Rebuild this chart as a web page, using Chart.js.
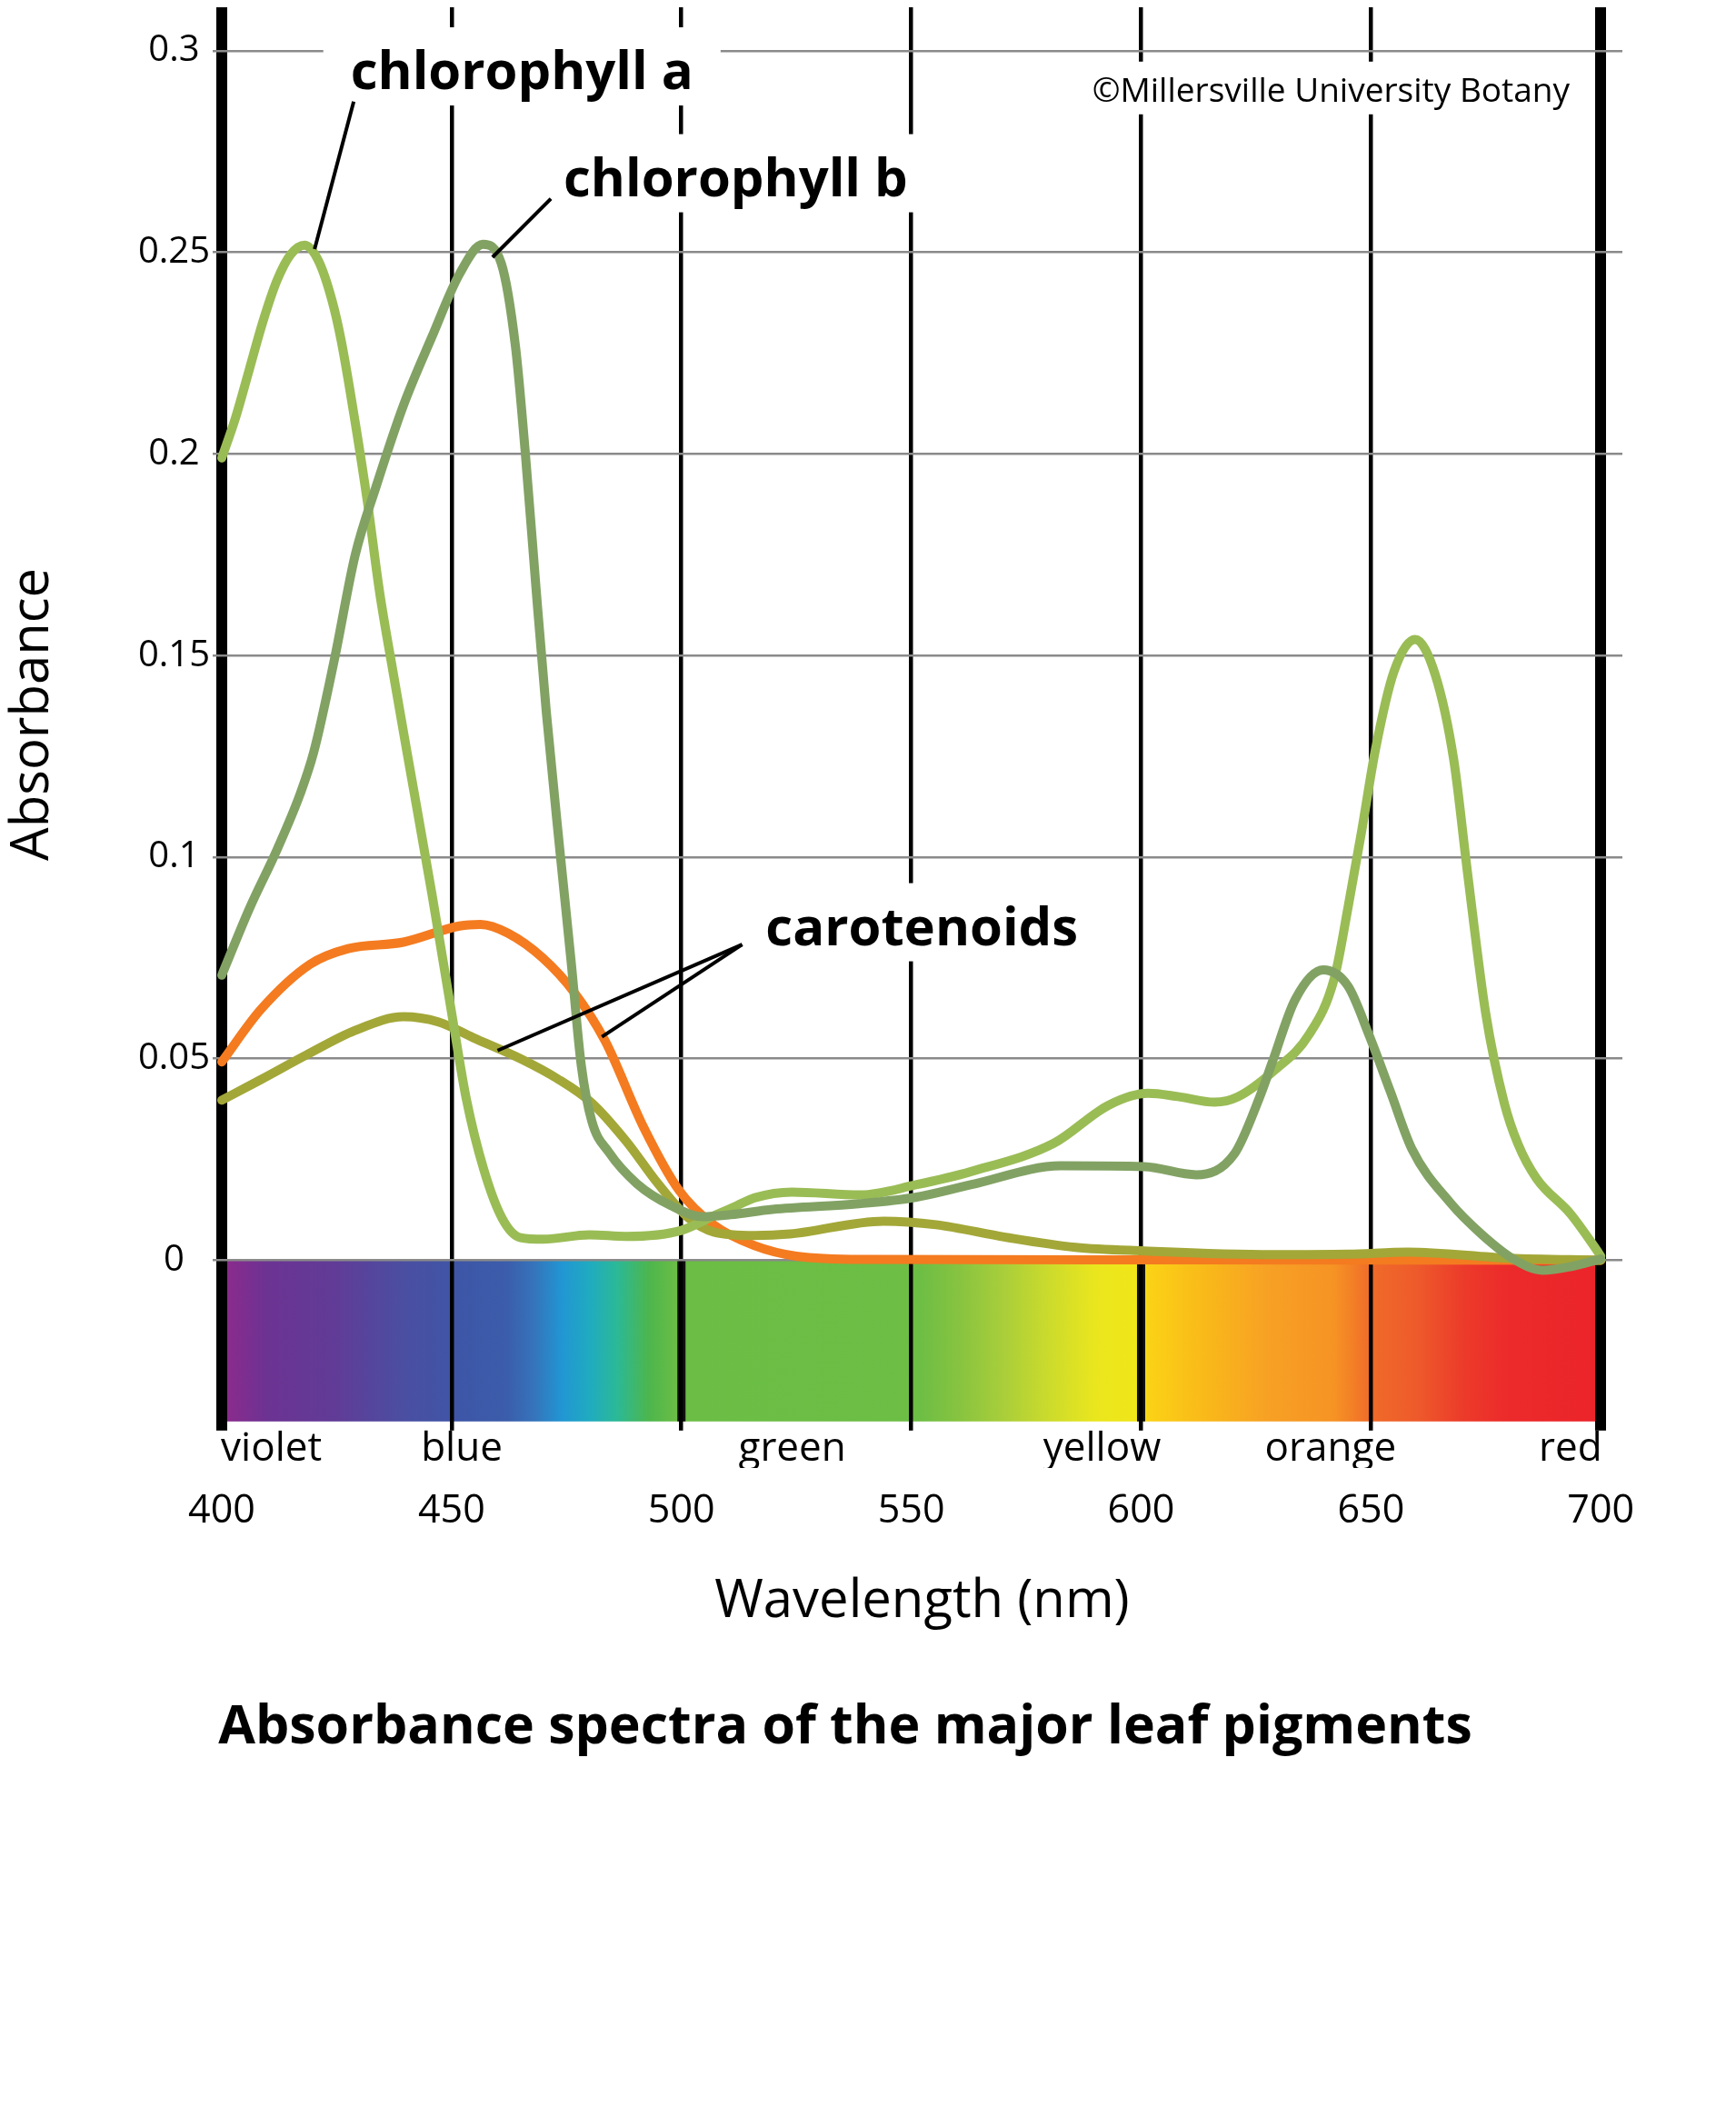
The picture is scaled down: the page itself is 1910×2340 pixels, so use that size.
<!DOCTYPE html>
<html>
<head>
<meta charset="utf-8">
<script src="https://cdn.jsdelivr.net/npm/chart.js@4.4.1/dist/chart.umd.min.js"></script>
<style>
html, body { margin: 0; padding: 0; background: #fff; }
</style>
</head>
<body>
<canvas id="chart" width="1910" height="2340"></canvas>
<script>
const wavelengthTicks = [400, 450, 500, 550, 600, 650, 700];
const absorbanceTicks = [0, 0.05, 0.1, 0.15, 0.2, 0.25, 0.3];
const colorNames = ["violet", "blue", "green", "yellow", "orange", "red"];
const colorNameWave = [410.8, 452.2, 524.1, 591.5, 641.2, 693.4];

const chlAWave = [400, 403, 406, 409, 412, 415, 418, 421, 424, 426, 429, 431.7, 434.3, 437.4, 440.3, 445.7, 450.2, 453.2, 457, 461, 465, 470, 480, 488, 500, 507, 512, 516, 524, 539, 551, 563, 581, 593, 601.5, 608, 616, 621, 629, 636.5, 642, 645, 648, 651, 655, 659.6, 664, 668, 671, 675, 679, 682, 686, 693.4, 699, 700];
const chlAValues = [0.199, 0.209, 0.221, 0.233, 0.243, 0.2495, 0.2518, 0.248, 0.238, 0.228, 0.208, 0.188, 0.166, 0.145, 0.126, 0.091, 0.06, 0.04, 0.0225, 0.0104, 0.0056, 0.0052, 0.0063, 0.0059, 0.0074, 0.011, 0.0135, 0.0155, 0.0169, 0.0162, 0.0187, 0.022, 0.029, 0.0385, 0.0414, 0.0406, 0.0392, 0.0405, 0.0471, 0.0559, 0.0698, 0.0874, 0.1066, 0.1268, 0.146, 0.154, 0.1452, 0.1242, 0.0962, 0.061, 0.039, 0.0288, 0.0203, 0.0115, 0.0027, 0.001];

const chlBWave = [400, 406, 412, 417, 420, 424.5, 429, 433.6, 439.5, 445.7, 451.7, 456.8, 460.8, 463.9, 466, 468.4, 470.6, 473.7, 476, 478.2, 480.5, 484.2, 490.3, 497.8, 504.6, 510.7, 519.8, 538.6, 550.9, 562.9, 582.5, 600.7, 612, 620.3, 625.8, 628.5, 633.5, 639.6, 645, 649.6, 654.2, 658.9, 667.3, 674.2, 681.1, 687.3, 693.4, 700];
const chlBValues = [0.0707, 0.0872, 0.1018, 0.1155, 0.126, 0.149, 0.1748, 0.192, 0.212, 0.229, 0.2446, 0.252, 0.2473, 0.2266, 0.2007, 0.1662, 0.136, 0.1, 0.0741, 0.0484, 0.0345, 0.0268, 0.019, 0.0135, 0.0108, 0.0113, 0.0126, 0.014, 0.0156, 0.0187, 0.0234, 0.0232, 0.0212, 0.0264, 0.0405, 0.049, 0.0646, 0.072, 0.068, 0.0558, 0.0419, 0.0276, 0.0142, 0.0063, 0.0002, -0.0025, -0.0016, 0.0003];

const caroOrangeWave = [400, 408.5, 419.2, 427.5, 439.5, 451.7, 456.3, 462.3, 469.8, 476.7, 483.4, 491.8, 499.5, 507, 515.9, 525, 540, 600, 700];
const caroOrangeValues = [0.0492, 0.0622, 0.0734, 0.0773, 0.0789, 0.0829, 0.0833, 0.0811, 0.075, 0.0664, 0.0544, 0.0329, 0.0173, 0.0088, 0.0036, 0.001, 0.0002, 0.0001, 0];

const caroOliveWave = [400, 408.5, 418.4, 429, 439.5, 447.1, 454.7, 465.3, 472.9, 480.5, 488, 494.9, 501.6, 507, 515.9, 523.6, 544, 555.4, 570.5, 585.7, 600.7, 628.6, 645, 658, 680, 700];
const caroOliveValues = [0.0397, 0.0448, 0.0509, 0.057, 0.0604, 0.0591, 0.0552, 0.0498, 0.0451, 0.039, 0.0295, 0.019, 0.0104, 0.007, 0.0061, 0.0065, 0.0097, 0.0088, 0.0057, 0.0032, 0.0023, 0.0014, 0.0015, 0.002, 0.0005, 0];

// visible spectrum under the zero line
const spectrumWave = [400, 410, 425, 440, 452, 462, 468, 474, 480, 486, 493, 499, 552, 560, 570, 580, 590, 599, 602, 615, 628, 642, 650, 660, 670, 680, 700];
const spectrumColor = ["#8e2a8c", "#6c3393", "#603c97", "#4a4fa2", "#3e56a7", "#3b5dab", "#3574bb", "#2196d3", "#20abc0", "#2bb996", "#4db64c", "#6bbd45", "#6dbe45", "#86c340", "#a9ce3a", "#ccdb2c", "#eae61e", "#f0e619", "#fbd116", "#f9b71a", "#f7a025", "#f69324", "#f06b29", "#ee5a2b", "#ec3b2a", "#ec2a2b", "#eb242a"];
const bandEdges = [500, 600];

// annotation texts, anchored in data units
const pigmentLabels = ["chlorophyll a", "chlorophyll b", "carotenoids"];
const pigmentLabelWave = [465.3, 511.8, 552.3];
const pigmentLabelLevel = [0.2905, 0.264, 0.0782];
const creditText = "\u00a9Millersville University Botany";
const creditWave = 641.3;
const creditLevel = 0.2874;

const leaderFromWave = [428.7, 471.6, 513.2, 513.2];
const leaderFromLevel = [0.2874, 0.2633, 0.0783, 0.0783];
const leaderToWave = [420.2, 458.9, 460, 482.7];
const leaderToLevel = [0.2508, 0.2488, 0.052, 0.0554];

const xMax = 704.7;

function points(wave, values) {
    return wave.map((w, i) => ({ x: w, y: values[i] }));
}

const spectrumPlugin = {
    id: "spectrum",
    beforeDraw(chart) {
        const ctx = chart.ctx;
        const x = chart.scales.x;
        const y = chart.scales.y;
        const left = x.getPixelForValue(400);
        const right = x.getPixelForValue(700);
        const top = y.getPixelForValue(0);
        const bottom = y.getPixelForValue(y.min);
        const grad = ctx.createLinearGradient(left, 0, right, 0);
        spectrumWave.forEach((w, i) => grad.addColorStop((w - 400) / 300, spectrumColor[i]));
        ctx.save();
        ctx.fillStyle = grad;
        ctx.fillRect(left, top, right - left, bottom - top);
        ctx.strokeStyle = "#111";
        ctx.lineWidth = 9;
        bandEdges.forEach((w) => {
            const px = x.getPixelForValue(w);
            ctx.beginPath();
            ctx.moveTo(px, top);
            ctx.lineTo(px, bottom);
            ctx.stroke();
        });
        ctx.restore();
    },
};

function drawLabel(ctx, text, cx, baseline, font, above, below, pad) {
    ctx.font = font;
    const w = ctx.measureText(text).width;
    ctx.fillStyle = "#fff";
    ctx.fillRect(cx - w / 2 - pad, baseline - above, w + 2 * pad, above + below);
    ctx.fillStyle = "#000";
    ctx.textAlign = "center";
    ctx.textBaseline = "alphabetic";
    ctx.fillText(text, cx, baseline);
}

const labelPlugin = {
    id: "labels",
    afterDatasetsDraw(chart) {
        const ctx = chart.ctx;
        const x = chart.scales.x;
        const y = chart.scales.y;
        ctx.save();
        pigmentLabels.forEach((t, i) => {
            drawLabel(ctx, t, x.getPixelForValue(pigmentLabelWave[i]), y.getPixelForValue(pigmentLabelLevel[i]), "bold 58px 'Open Sans'", 68, 18, 30);
        });
        drawLabel(ctx, creditText, x.getPixelForValue(creditWave), y.getPixelForValue(creditLevel), "37px 'Open Sans'", 44, 14, 10);
        ctx.strokeStyle = "#000";
        ctx.lineWidth = 4;
        leaderFromWave.forEach((w, i) => {
            ctx.beginPath();
            ctx.moveTo(x.getPixelForValue(w), y.getPixelForValue(leaderFromLevel[i]));
            ctx.lineTo(x.getPixelForValue(leaderToWave[i]), y.getPixelForValue(leaderToLevel[i]));
            ctx.stroke();
        });
        ctx.restore();
    },
};

const curve = {
    borderWidth: 10,
    pointRadius: 0,
    cubicInterpolationMode: "monotone",
    borderCapStyle: "round",
    borderJoinStyle: "round",
};

const chart = new Chart(document.getElementById("chart"), {
    type: "line",
    data: {
        datasets: [
            { ...curve, label: "chlorophyll b", data: points(chlBWave, chlBValues), borderColor: "#82a264" },
            { ...curve, label: "chlorophyll a", data: points(chlAWave, chlAValues), borderColor: "#9abc55" },
            { ...curve, label: "carotenoids", data: points(caroOliveWave, caroOliveValues), borderColor: "#a3a737" },
            { ...curve, label: "carotenoids", data: points(caroOrangeWave, caroOrangeValues), borderColor: "#f47b20" },
        ],
    },
    options: {
        responsive: false,
        animation: false,
        devicePixelRatio: 1,
        clip: false,
        layout: { padding: { top: 8, left: 0, right: 50, bottom: 403 } },
        plugins: {
            legend: { display: false },
            tooltip: { enabled: false },
            title: {
                display: true,
                position: "bottom",
                text: "Absorbance spectra of the major leaf pigments",
                color: "#000",
                font: { family: "'Open Sans'", size: 59, weight: "bold" },
                padding: { top: 69, bottom: 0 },
            },
        },
        scales: {
            x: {
                type: "linear",
                min: 400,
                max: xMax,
                afterBuildTicks: (s) => { s.ticks = wavelengthTicks.map((v) => ({ value: v })); },
                grid: {
                    color: "#000",
                    lineWidth: (c) => (c.tick && (c.tick.value === 400 || c.tick.value === 700) ? 12 : 4.5),
                    tickLength: 10,
                },
                border: { display: false },
                ticks: { display: false },
            },
            xNames: {
                type: "linear",
                position: "bottom",
                weight: 1,
                min: 400,
                max: xMax,
                afterBuildTicks: (s) => { s.ticks = colorNameWave.map((v) => ({ value: v })); },
                grid: { display: false, drawTicks: false },
                border: { display: false },
                ticks: {
                    autoSkip: false,
                    maxRotation: 0,
                    padding: 3,
                    color: "#000",
                    font: { family: "'Open Sans'", size: 44, lineHeight: 0.8 },
                    callback: (v, i) => colorNames[i],
                },
            },
            xNums: {
                type: "linear",
                position: "bottom",
                weight: 2,
                min: 400,
                max: xMax,
                afterBuildTicks: (s) => { s.ticks = wavelengthTicks.map((v) => ({ value: v })); },
                grid: { display: false, drawTicks: false },
                border: { display: false },
                ticks: {
                    autoSkip: false,
                    maxRotation: 0,
                    padding: 22,
                    color: "#000",
                    font: { family: "'Open Sans'", size: 43 },
                    callback: (v) => String(v),
                },
                title: {
                    display: true,
                    text: "Wavelength (nm)",
                    color: "#000",
                    font: { family: "'Open Sans'", size: 58 },
                    padding: { top: 17, bottom: 0 },
                },
            },
            y: {
                min: -0.04,
                max: 0.3108,
                afterBuildTicks: (s) => { s.ticks = absorbanceTicks.map((v) => ({ value: v })); },
                afterFit: (s) => { s.width = 244; },
                grid: { color: "#8a8a8a", lineWidth: 2.5, tickLength: 10 },
                border: { display: false },
                ticks: {
                    crossAlign: "center",
                    padding: 3,
                    color: "#000",
                    font: { family: "'Open Sans'", size: 40, lineHeight: 0.2 },
                    callback: (v) => String(v),
                },
                title: {
                    display: true,
                    text: "Absorbance",
                    color: "#000",
                    font: { family: "'Open Sans'", size: 58 },
                    padding: { top: 2, bottom: 0 },
                },
            },
            yRight: {
                position: "right",
                grid: { display: false, drawTicks: false },
                border: { display: false },
                ticks: { display: false },
                afterFit: (s) => { s.width = 75; },
            },
        },
    },
    plugins: [spectrumPlugin, labelPlugin],
});
</script>
</body>
</html>
